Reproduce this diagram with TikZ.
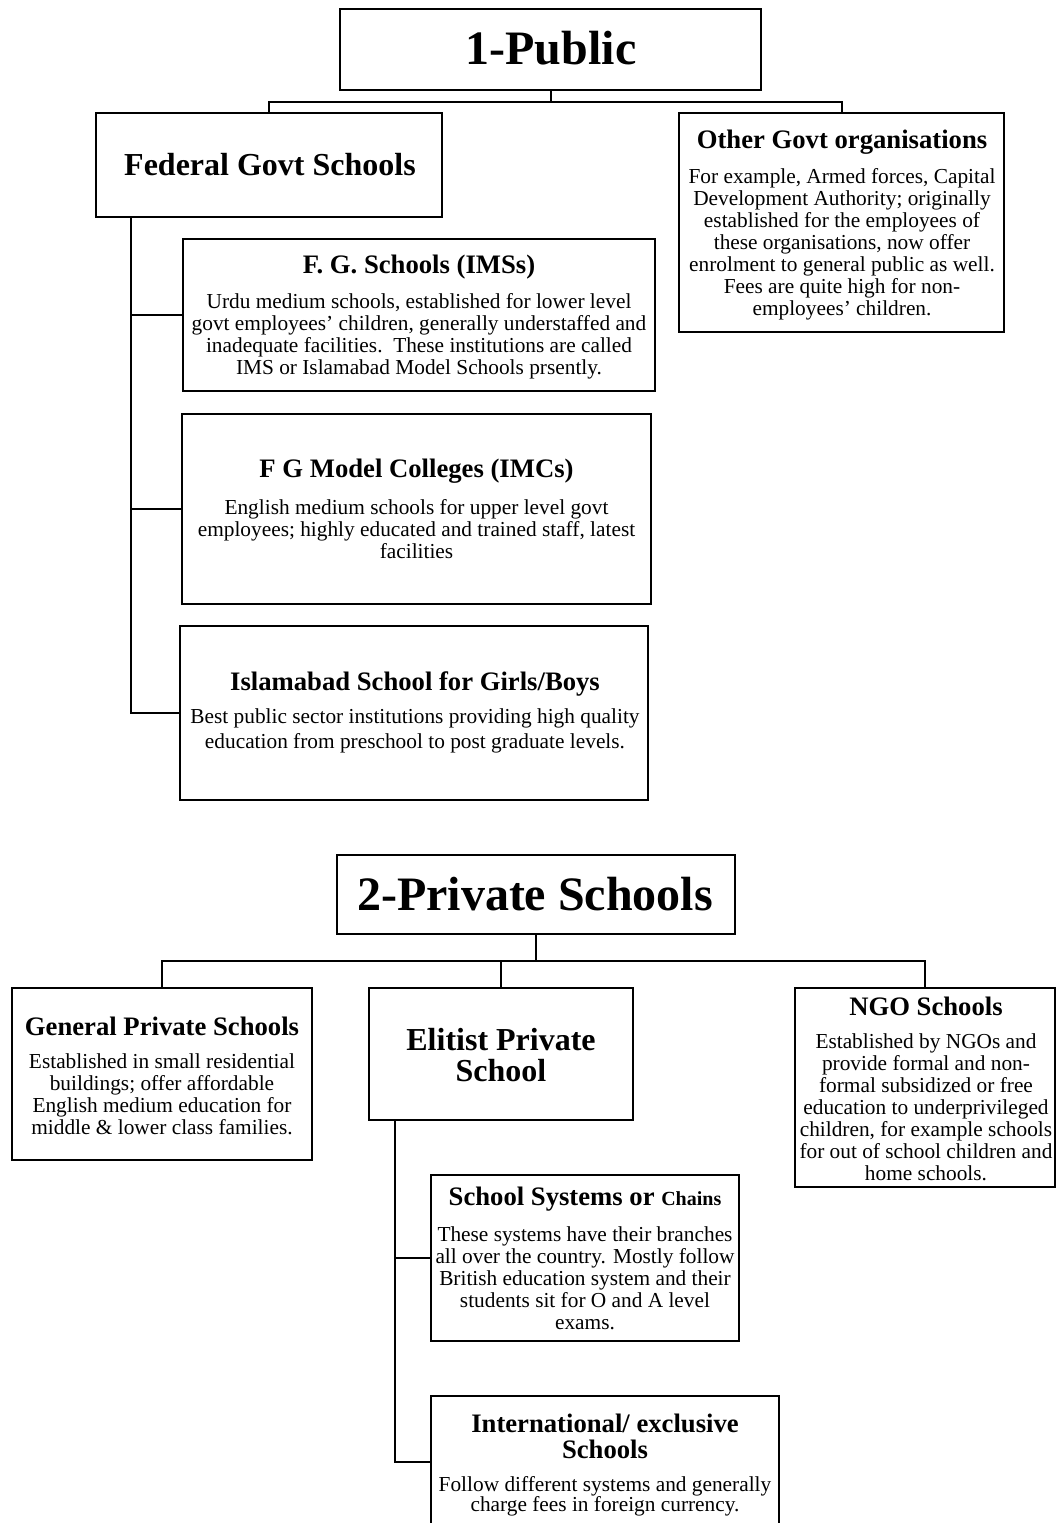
\documentclass[tikz,border=0pt]{standalone}
\usepackage{fontspec}
\setmainfont{Liberation Serif}
\begin{document}
\begin{tikzpicture}[x=0.75pt,y=-0.75pt,
  box/.style 2 args={draw, line width=1.6pt, inner sep=0pt, minimum width=#1*0.75pt, minimum height=#2*0.75pt},
  conn/.style={line width=1.5pt},
  txt/.style={inner sep=0pt, align=center},
  bigt/.style={txt, font=\bfseries\fontsize{36}{40}\selectfont},
  midt/.style={txt, font=\bfseries\fontsize{24}{23.25}\selectfont},
  ttl/.style={txt, font=\bfseries\fontsize{20}{19.5}\selectfont},
  body/.style={txt, font=\fontsize{16}{16.5}\selectfont}]
\useasboundingbox (0,0) rectangle (1060,1523);
\fill[white] (0,0) rectangle (1060,1523);

% ---------- boxes ----------
\node[box={421}{81}]  (pub) at (550.5,49.5) {};
\node[box={346}{104}] (fed) at (269,165) {};
\node[box={325}{219}] (oth) at (841.5,222.5) {};
\node[box={472}{152}] (fgs) at (419,315) {};
\node[box={469}{190}] (fgm) at (416.5,509) {};
\node[box={468}{174}] (isl) at (414,713) {};

\node[box={398}{79}]  (priv) at (536,894.5) {};
\node[box={300}{172}] (gen) at (161.75,1074) {};
\node[box={264}{132}] (eli) at (501,1054) {};
\node[box={260}{199}] (ngo) at (925,1087.5) {};
\node[box={308}{166}] (sys) at (585,1258) {};
\node[box={348}{132}] (int) at (605,1462) {};

% ---------- texts ----------
\node[bigt] (tpub) at (551,48) {1-Public};
\node[midt] (tfed) at (270,165) {Federal Govt Schools};
\node[ttl] (toth) at (842,142) {Other Govt organisations};
\node[body] (both) at (842,244) {For example, Armed forces, Capital\\Development Authority; originally\\established for the employees of\\these organisations, now offer\\enrolment to general public as well.\\Fees are quite high for non-\\employees’ children.};
\node[ttl] (tfgs) at (419,267) {F. G. Schools (IMSs)};
\node[body] (bfgs) at (419,336) {Urdu medium schools, established for lower level\\govt employees’ children, generally understaffed and\\inadequate facilities.\ \ These institutions are called\\IMS or Islamabad Model Schools prsently.};
\node[ttl] (tfgm) at (416.5,471) {F G Model Colleges (IMCs)};
\node[body] (bfgm) at (416.5,529) {English medium schools for upper level govt\\employees; highly educated and trained staff, latest\\facilities};
\node[ttl] (tisl) at (415,684) {Islamabad School for Girls/Boys};
\node[body, font=\fontsize{16}{19}\selectfont] (bisl) at (415,731) {Best public sector institutions providing high quality\\education from preschool to post graduate levels.};

\node[bigt] (tpriv) at (535,894) {2-Private Schools};
\node[ttl] (tgen) at (162,1026) {General Private Schools};
\node[body] (bgen) at (162,1094) {Established in small residential\\buildings; offer affordable\\English medium education for\\middle \& lower class families.};
\node[midt] (teli) at (501,1055) {Elitist Private\\School};
\node[ttl] (tngo) at (926,1006) {NGO Schools};
\node[body] (bngo) at (926,1107) {Established by NGOs and\\provide formal and non-\\formal subsidized or free\\education to underprivileged\\children, for example schools\\for out of school children and\\home schools.};
\node[ttl] (tsys) at (585,1199) {School Systems or {\fontsize{15}{15}\selectfont Chains}};
\node[body] (bsys) at (585,1278) {These systems have their branches\\all over the country. Mostly follow\\British education system and their\\students sit for O and A level\\exams.};
\node[ttl] (tint) at (605,1436) {International/ exclusive\\Schools};
\node[body, font=\fontsize{16}{15}\selectfont] (bint) at (605,1496) {Follow different systems and generally\\charge fees in foreign currency.};

% ---------- connectors ----------
\coordinate (tj) at (550.5,102);
\draw[conn] (pub.south) -- (tj);
\draw[conn] (fed.north) |- (tj) -| (oth.north);
\coordinate (fs) at (131,217);
\draw[conn] (fs) |- (isl.west);
\draw[conn] (fs |- fgs.west) -- (fgs.west);
\draw[conn] (fs |- fgm.west) -- (fgm.west);

\coordinate (pj) at (536,961);
\draw[conn] (priv.south) -- (pj);
\draw[conn] (gen.north) |- (pj) -| (ngo.north);
\draw[conn] (eli.north) -- (eli.north |- pj);
\coordinate (es) at (395,1120);
\draw[conn] (es) |- (int.west);
\draw[conn] (es |- sys.west) -- (sys.west);
\end{tikzpicture}
\end{document}
